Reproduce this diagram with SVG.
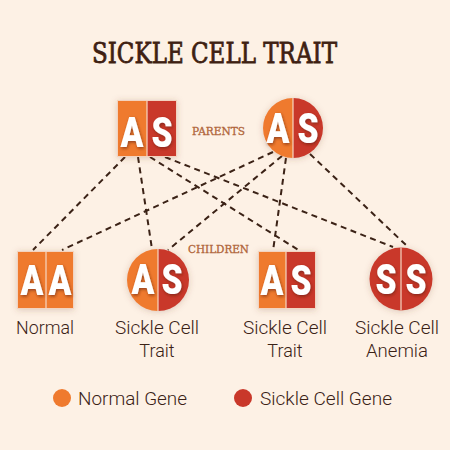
<svg xmlns="http://www.w3.org/2000/svg" width="450" height="450" viewBox="0 0 450 450">
<defs>
<style>
.title{font-family:"DejaVu Serif",serif;font-size:27px;fill:#3f1f12;stroke:#3f1f12;stroke-width:0.8}
.lab{font-family:"DejaVu Serif",serif;font-size:10.5px;fill:#b0653a;stroke:#b0653a;stroke-width:0.3}
.txt{font-family:Roboto,"Liberation Sans",sans-serif;font-weight:300;font-size:18px;fill:#3b2216;text-anchor:middle}
.leg{font-family:Roboto,"Liberation Sans",sans-serif;font-weight:300;font-size:18px;fill:#3b2216}
.o{fill:#ef7a2e}
.r{fill:#c9382a}
.div{stroke:#f6d7c4;stroke-width:1.2}
.edge{stroke:#f3d3bf;stroke-width:1;fill:none}
.let{font-family:Roboto,"Liberation Sans",sans-serif;font-weight:900;font-size:42px;fill:#ffffff;text-anchor:middle;filter:url(#ls)}
.con line{stroke:#3b2216;stroke-width:2;stroke-dasharray:6 4.5;fill:none}
.node{filter:url(#ns)}
</style>
<filter id="ls" x="-50%" y="-50%" width="200%" height="200%">
<feDropShadow dx="1" dy="1.5" stdDeviation="1.8" flood-color="#5a1a08" flood-opacity="0.6"/>
</filter>
<filter id="ns" x="-30%" y="-30%" width="160%" height="160%">
<feDropShadow dx="0" dy="1" stdDeviation="3" flood-color="#7a4a30" flood-opacity="0.25"/>
</filter>
</defs>
<rect width="450" height="450" fill="#fdf1e5"/>
<text class="title" x="92" y="63" textLength="245" lengthAdjust="spacingAndGlyphs">SICKLE CELL TRAIT</text>
<text class="lab" x="192" y="135" textLength="53" lengthAdjust="spacingAndGlyphs">PARENTS</text>
<text class="lab" x="188" y="253" textLength="61" lengthAdjust="spacingAndGlyphs">CHILDREN</text>
<g class="con">
<line x1="125" y1="157" x2="33" y2="250"/>
<line x1="138" y1="157" x2="152" y2="249"/>
<line x1="150" y1="157" x2="300" y2="251"/>
<line x1="165" y1="157" x2="393" y2="247"/>
<line x1="273" y1="152" x2="62" y2="250"/>
<line x1="282" y1="156" x2="168" y2="250"/>
<line x1="286" y1="158" x2="273" y2="251"/>
<line x1="310" y1="154" x2="407" y2="246"/>
</g>
<g id="parent1" class="node">
<rect class="o" x="117" y="100" width="30" height="57"/>
<rect class="r" x="147" y="100" width="30" height="57"/>
<rect class="edge" x="117.5" y="100.5" width="59" height="56"/>
<line class="div" x1="147" y1="100" x2="147" y2="157"/>
<text class="let" transform="translate(132,147) scale(0.8,1)">A</text>
<text class="let" transform="translate(162,147) scale(0.8,1)">S</text>
</g>
<g id="parent2" class="node">
<path class="o" d="M293,98 A30,30 0 0 0 293,158 Z"/>
<path class="r" d="M293,98 A30,30 0 0 1 293,158 Z"/>
<line class="div" x1="293" y1="98" x2="293" y2="158"/>
<text class="let" transform="translate(278,143) scale(0.8,1)">A</text>
<text class="let" transform="translate(308,143) scale(0.8,1)">S</text>
</g>
<g id="child1" class="node">
<rect class="o" x="17" y="251" width="57" height="58"/>
<rect class="edge" x="17.5" y="251.5" width="56" height="57"/>
<line class="div" x1="46" y1="251" x2="46" y2="309"/>
<text class="let" transform="translate(32,295) scale(0.8,1)">A</text>
<text class="let" transform="translate(60,295) scale(0.8,1)">A</text>
</g>
<g id="child2" class="node">
<path class="o" d="M158,249 A31,31 0 0 0 158,311 Z"/>
<path class="r" d="M158,249 A31,31 0 0 1 158,311 Z"/>
<line class="div" x1="158" y1="249" x2="158" y2="311"/>
<text class="let" transform="translate(143,294) scale(0.8,1)">A</text>
<text class="let" transform="translate(172,294) scale(0.8,1)">S</text>
</g>
<g id="child3" class="node">
<rect class="o" x="258" y="251" width="28" height="58"/>
<rect class="r" x="286" y="251" width="30" height="58"/>
<rect class="edge" x="258.5" y="251.5" width="57" height="57"/>
<line class="div" x1="286" y1="251" x2="286" y2="309"/>
<text class="let" transform="translate(272,295) scale(0.8,1)">A</text>
<text class="let" transform="translate(301,295) scale(0.8,1)">S</text>
</g>
<g id="child4" class="node">
<circle class="r" cx="401" cy="279" r="31.5"/>
<line class="div" x1="401" y1="247.5" x2="401" y2="310.5"/>
<text class="let" transform="translate(386,294) scale(0.8,1)">S</text>
<text class="let" transform="translate(416,294) scale(0.8,1)">S</text>
</g>
<text class="txt" x="45" y="334" textLength="58" lengthAdjust="spacingAndGlyphs">Normal</text>
<text class="txt" x="157" y="334" textLength="84" lengthAdjust="spacingAndGlyphs">Sickle Cell</text>
<text class="txt" x="157" y="357">Trait</text>
<text class="txt" x="285" y="334" textLength="84" lengthAdjust="spacingAndGlyphs">Sickle Cell</text>
<text class="txt" x="285" y="357">Trait</text>
<text class="txt" x="397" y="334" textLength="84" lengthAdjust="spacingAndGlyphs">Sickle Cell</text>
<text class="txt" x="397" y="357" textLength="62" lengthAdjust="spacingAndGlyphs">Anemia</text>
<g id="legend">
<circle class="o" cx="62" cy="398" r="9"/>
<text class="leg" x="78" y="405" textLength="109" lengthAdjust="spacingAndGlyphs">Normal Gene</text>
<circle class="r" cx="243" cy="398" r="9"/>
<text class="leg" x="260" y="405" textLength="132" lengthAdjust="spacingAndGlyphs">Sickle Cell Gene</text>
</g>
</svg>
